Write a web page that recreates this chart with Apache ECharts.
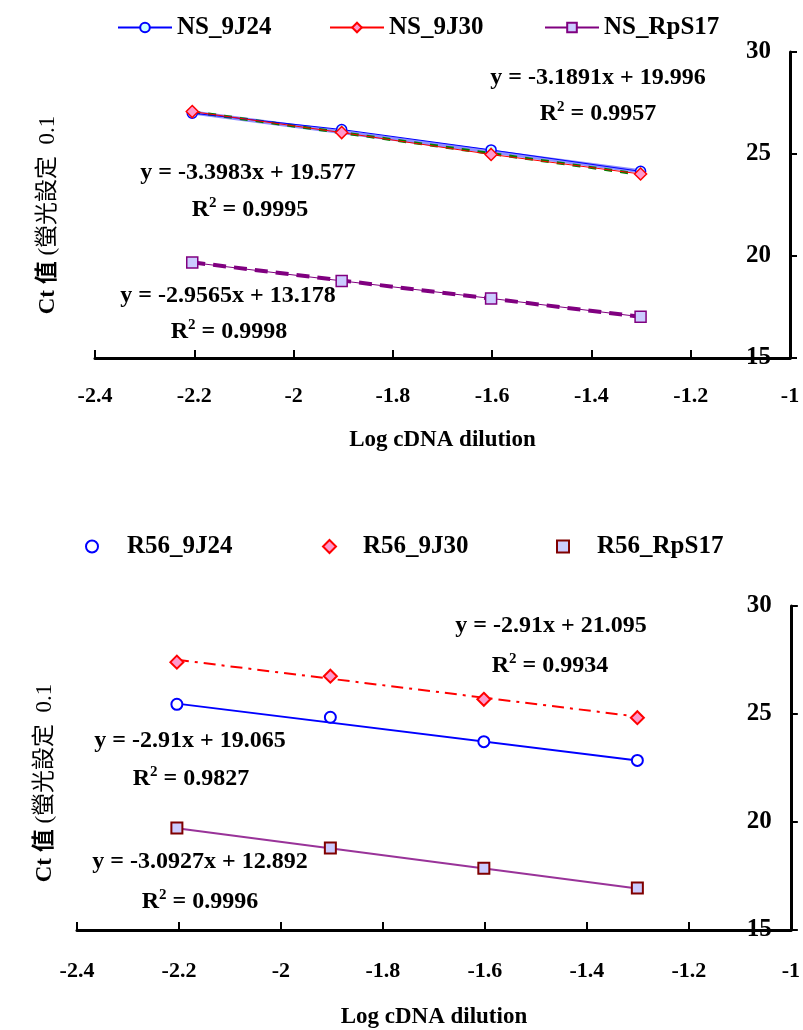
<!DOCTYPE html>
<html>
<head>
<meta charset="utf-8">
<script src="https://cdn.jsdelivr.net/npm/echarts@6/dist/echarts.min.js"></script>
<style>
html,body{margin:0;padding:0;background:#fff;}
#main{width:803px;height:1030px;}
</style>
</head>
<body>
<div id="main"></div>
<script>
// ---- data ----
const xLog = [-2.2041, -1.9031, -1.6021, -1.3010];
const xTicks = [-2.4, -2.2, -2, -1.8, -1.6, -1.4, -1.2, -1];
const yTicks = [15, 20, 25, 30];

const ns9J24 = [27.0, 26.2, 25.2, 24.15];
const ns9J30 = [27.08, 26.05, 24.98, 24.02];
const nsRpS17 = [19.68, 18.78, 17.92, 17.02];
const trendNS9J24 = [27.03, 24.15];
const trendNS9J30 = [27.07, 24.0];
const trendNSRpS17 = [19.69, 17.02];

const r56_9J24 = [25.45, 24.85, 23.72, 22.85];
const r56_9J30 = [27.4, 26.75, 25.68, 24.83];
const r56_RpS17 = [19.72, 18.8, 17.86, 16.95];
const trendR56_9J24 = [25.48, 22.85];
const trendR56_9J30 = [27.51, 24.88];
const trendR56_RpS17 = [19.71, 16.92];

const legendTop = ['NS_9J24', 'NS_9J30', 'NS_RpS17'];
const legendBottom = ['R56_9J24', 'R56_9J30', 'R56_RpS17'];

// ---- helpers ----
const FONT = '"Liberation Serif", "Times New Roman", serif';
const pairs = ys => xLog.map((x, i) => [x, ys[i]]);
const trendPairs = ys => [[xLog[0], ys[0]], [xLog[xLog.length - 1], ys[1]]];
const fmtX = v => String(+(+v).toFixed(1));

function xAxisCfg(gi, nameGap, labelMargin) {
  return {
    type: 'value', gridIndex: gi, min: xTicks[0], max: xTicks[xTicks.length - 1], interval: 0.2,
    name: 'Log cDNA dilution', nameLocation: 'middle', nameGap: nameGap,
    nameTextStyle: {fontFamily: FONT, fontWeight: 'bold', fontSize: 23, color: '#000'},
    axisLine: {onZero: false, lineStyle: {color: '#000', width: 3}},
    axisTick: {inside: true, length: 8, lineStyle: {color: '#000', width: 2}},
    axisLabel: {margin: labelMargin, formatter: fmtX, fontFamily: FONT, fontWeight: 'bold', fontSize: 22, color: '#000', showMinLabel: true, showMaxLabel: true},
    splitLine: {show: false}
  };
}
function yAxisCfg(gi) {
  return {
    type: 'value', gridIndex: gi, position: 'right', min: yTicks[0], max: yTicks[yTicks.length - 1], interval: 5,
    axisLine: {show: true, lineStyle: {color: '#000', width: 3}},
    axisTick: {show: true, inside: false, length: 7, lineStyle: {color: '#000', width: 2}},
    axisLabel: {inside: true, margin: 19, fontFamily: FONT, fontWeight: 'bold', fontSize: 25, color: '#000'},
    splitLine: {show: false}
  };
}
const legTxt = {fontFamily: FONT, fontWeight: 'bold', fontSize: 25, color: '#000'};

function eqText(x, y, txt) {
  return {type: 'text', x: x, y: y, z: 100,
    style: {text: txt, fill: '#000', font: 'bold 24px ' + FONT, align: 'center', verticalAlign: 'middle'}};
}
function r2Text(x, y, val) {
  return {type: 'text', x: x, y: y, z: 100,
    style: {text: '{r|R}{s|2}{r| = ' + val + '}', fill: '#000', align: 'center', verticalAlign: 'middle',
      rich: {
        r: {fontFamily: FONT, fontWeight: 'bold', fontSize: 24, lineHeight: 28, fill: '#000'},
        s: {fontFamily: FONT, fontWeight: 'bold', fontSize: 15, lineHeight: 15, verticalAlign: 'top', fill: '#000'}
      }}};
}
function yName(x, y) {
  return {type: 'text', x: x, y: y, rotation: Math.PI / 2, z: 100,
    style: {text: '{b|Ct 值}{n| (螢光設定  0.1}', align: 'center', verticalAlign: 'middle',
      rich: {
        b: {fontFamily: FONT + ', "Noto Sans CJK TC"', fontWeight: 'bold', fontSize: 23, fill: '#000'},
        n: {fontFamily: FONT + ', "Noto Sans CJK TC"', fontWeight: 'normal', fontSize: 23, fill: '#000'}
      }}};
}

const option = {
  backgroundColor: '#fff',
  animation: false,
  grid: [
    {left: 95, right: 13, top: 52, height: 306},
    {left: 77, right: 12, top: 606, height: 324}
  ],
  xAxis: [xAxisCfg(0, 71, 27), xAxisCfg(1, 76, 30)],
  yAxis: [yAxisCfg(0), yAxisCfg(1)],
  legend: [
    {data: [legendTop[0]], left: 112, top: 10, itemWidth: 54, itemHeight: 12, textStyle: legTxt},
    {data: [legendTop[1]], left: 324, top: 10, itemWidth: 54, itemHeight: 12, textStyle: legTxt},
    {data: [legendTop[2]], left: 539, top: 10, itemWidth: 54, itemHeight: 12, textStyle: legTxt},
    {data: [legendBottom[0]], left: 80, top: 529, itemWidth: 12, itemHeight: 12, textStyle: Object.assign({padding: [0, 0, 0, 24]}, legTxt)},
    {data: [legendBottom[1]], left: 317, top: 529, itemWidth: 13, itemHeight: 13, textStyle: Object.assign({padding: [0, 0, 0, 22]}, legTxt)},
    {data: [legendBottom[2]], left: 551, top: 529, itemWidth: 12, itemHeight: 12, textStyle: Object.assign({padding: [0, 0, 0, 23]}, legTxt)}
  ],
  series: [
    // top chart: trend lines
    {name: 'tNS9J24', type: 'line', xAxisIndex: 0, yAxisIndex: 0, data: trendPairs(trendNS9J24), symbol: 'none', silent: true, z: 3,
      lineStyle: {color: '#8f8fff', width: 4}},
    {name: 'tNS9J30', type: 'line', xAxisIndex: 0, yAxisIndex: 0, data: trendPairs(trendNS9J30), symbol: 'none', silent: true, z: 4,
      lineStyle: {color: '#008000', width: 3, type: [8, 8]}},
    {name: 'tNSRpS17', type: 'line', xAxisIndex: 0, yAxisIndex: 0, data: trendPairs(trendNSRpS17), symbol: 'none', silent: true, z: 3,
      lineStyle: {color: '#800080', width: 4, type: [13, 8]}},
    // top chart: data series
    {name: legendTop[0], type: 'line', xAxisIndex: 0, yAxisIndex: 0, data: pairs(ns9J24), symbol: 'circle', symbolSize: 10, z: 5,
      lineStyle: {color: '#0000ff', width: 1}, itemStyle: {color: '#ccffff', borderColor: '#0000ff', borderWidth: 1.5}},
    {name: legendTop[1], type: 'line', xAxisIndex: 0, yAxisIndex: 0, data: pairs(ns9J30), symbol: 'diamond', symbolSize: 12, z: 5,
      lineStyle: {color: '#ff0000', width: 1}, itemStyle: {color: '#ff99cc', borderColor: '#ff0000', borderWidth: 1.5}},
    {name: legendTop[2], type: 'line', xAxisIndex: 0, yAxisIndex: 0, data: pairs(nsRpS17), symbol: 'rect', symbolSize: 11, z: 5,
      lineStyle: {color: '#800080', width: 1}, itemStyle: {color: '#ccccff', borderColor: '#800080', borderWidth: 1.5}},
    // bottom chart: trend lines
    {name: 'tR9J24', type: 'line', xAxisIndex: 1, yAxisIndex: 1, data: trendPairs(trendR56_9J24), symbol: 'none', silent: true, z: 3,
      lineStyle: {color: '#0000ff', width: 2}},
    {name: 'tR9J30', type: 'line', xAxisIndex: 1, yAxisIndex: 1, data: trendPairs(trendR56_9J30), symbol: 'none', silent: true, z: 3,
      lineStyle: {color: '#ff0000', width: 2, type: [12, 6, 3, 6]}},
    {name: 'tRRpS17', type: 'line', xAxisIndex: 1, yAxisIndex: 1, data: trendPairs(trendR56_RpS17), symbol: 'none', silent: true, z: 3,
      lineStyle: {color: '#993399', width: 2}},
    // bottom chart: data series (markers only)
    {name: legendBottom[0], type: 'scatter', xAxisIndex: 1, yAxisIndex: 1, data: pairs(r56_9J24), symbol: 'circle', symbolSize: 11, z: 5,
      itemStyle: {color: '#ffffff', borderColor: '#0000ff', borderWidth: 2, opacity: 1}},
    {name: legendBottom[1], type: 'scatter', xAxisIndex: 1, yAxisIndex: 1, data: pairs(r56_9J30), symbol: 'diamond', symbolSize: 13, z: 5,
      itemStyle: {color: '#ff99cc', borderColor: '#ff0000', borderWidth: 2, opacity: 1}},
    {name: legendBottom[2], type: 'scatter', xAxisIndex: 1, yAxisIndex: 1, data: pairs(r56_RpS17), symbol: 'rect', symbolSize: 11, z: 5,
      itemStyle: {color: '#ccccff', borderColor: '#800000', borderWidth: 2, opacity: 1}}
  ],
  graphic: [
    eqText(598, 78, 'y = -3.1891x + 19.996'),
    r2Text(598, 114, '0.9957'),
    eqText(248, 173, 'y = -3.3983x + 19.577'),
    r2Text(250, 210, '0.9995'),
    eqText(228, 296, 'y = -2.9565x + 13.178'),
    r2Text(229, 332, '0.9998'),
    eqText(551, 626, 'y = -2.91x + 21.095'),
    r2Text(550, 666, '0.9934'),
    eqText(190, 741, 'y = -2.91x + 19.065'),
    r2Text(191, 779, '0.9827'),
    eqText(200, 862, 'y = -3.0927x + 12.892'),
    r2Text(200, 902, '0.9996'),
    yName(48, 215),
    yName(45, 783)
  ]
};

const chart = echarts.init(document.getElementById('main'), null, {renderer: 'canvas'});
chart.setOption(option);
</script>
</body>
</html>
